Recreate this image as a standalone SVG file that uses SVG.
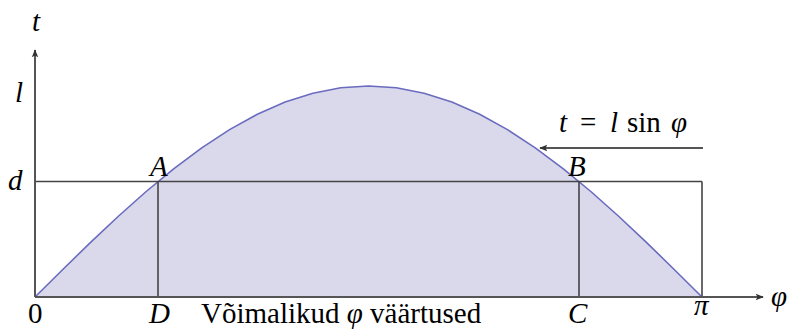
<svg xmlns="http://www.w3.org/2000/svg" width="794" height="333" viewBox="0 0 794 333">
<style>
.ln{stroke:#444;stroke-width:1.6;fill:none}
.ax{stroke:#555;stroke-width:2;fill:none}
text{font-family:'Liberation Serif','Times New Roman',serif;font-size:29px;fill:#000}
.mi{font-style:italic}
</style>
<defs>
<marker id="ah2" viewBox="0 0 10 10" refX="9" refY="5" markerWidth="10" markerHeight="8" orient="auto" markerUnits="userSpaceOnUse">
<path d="M0,1 L10,5 L0,9 L2,5 Z" fill="#333"/>
</marker>
</defs>
<rect width="794" height="333" fill="#fff"/>
<g id="curve">
<path d="M35,297 L62.79,269.46 L90.58,242.39 L118.38,216.25 L146.17,191.5 L173.96,168.54 L201.75,147.8 L229.54,129.6 L257.33,114.27 L285.13,102.06 L312.92,93.19 L340.71,87.82 L368.5,86 L396.29,87.82 L424.08,93.19 L451.87,102.06 L479.67,114.27 L507.46,129.6 L535.25,147.8 L563.04,168.54 L590.83,191.5 L618.62,216.25 L646.42,242.39 L674.21,269.46 L702,297 Z" fill="#d9d9eb" stroke="none"/>
<path d="M35,297 L62.79,269.46 L90.58,242.39 L118.38,216.25 L146.17,191.5 L173.96,168.54 L201.75,147.8 L229.54,129.6 L257.33,114.27 L285.13,102.06 L312.92,93.19 L340.71,87.82 L368.5,86 L396.29,87.82 L424.08,93.19 L451.87,102.06 L479.67,114.27 L507.46,129.6 L535.25,147.8 L563.04,168.54 L590.83,191.5 L618.62,216.25 L646.42,242.39 L674.21,269.46 L702,297" fill="none" stroke="#6b6bbf" stroke-width="1.6" stroke-linejoin="round"/>
</g>
<g id="connectors">
<line class="ln" x1="35" y1="181.5" x2="702" y2="181.5"/>
<line class="ln" x1="702" y1="181.5" x2="702" y2="297"/>
<line class="ln" x1="158" y1="181.5" x2="158" y2="297"/>
<line class="ln" x1="579" y1="181.5" x2="579" y2="297"/>
<line class="ax" x1="35" y1="297" x2="35" y2="50" marker-end="url(#ah2)"/>
<line class="ax" x1="35" y1="297" x2="763" y2="297" marker-end="url(#ah2)"/>
<line x1="703" y1="148" x2="540" y2="148" stroke="#555" stroke-width="1.8" marker-end="url(#ah2)"/>
</g>
<g id="labels">
<text class="mi" x="32" y="31">t</text>
<text class="mi" x="15" y="102">l</text>
<text class="mi" x="8" y="190">d</text>
<text class="mi" x="150" y="176">A</text>
<text class="mi" x="568" y="176">B</text>
<text x="28" y="323">0</text>
<text class="mi" x="149" y="323">D</text>
<text class="mi" x="568" y="323">C</text>
<text class="mi" x="694" y="315">π</text>
<text class="mi" x="771" y="306">φ</text>
<text x="201" y="323">Võimalikud <tspan class="mi">φ</tspan> väärtused</text>
<text y="132"><tspan class="mi" x="559">t</tspan><tspan x="580">=</tspan><tspan class="mi" x="610">l</tspan><tspan x="627">sin</tspan><tspan class="mi" x="671">φ</tspan></text>
</g>
</svg>
